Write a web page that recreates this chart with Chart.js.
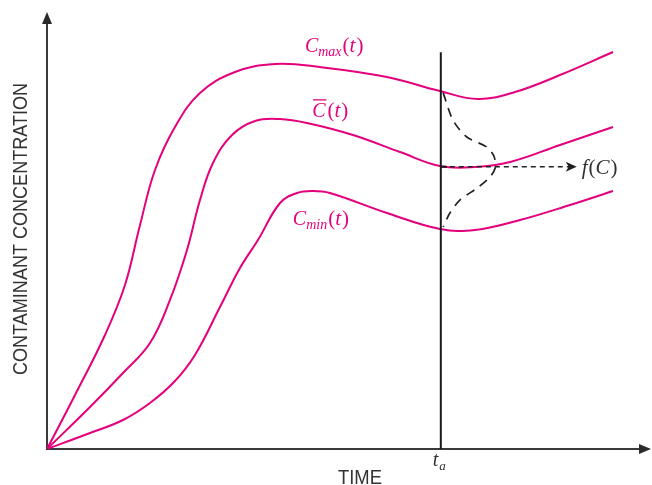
<!DOCTYPE html>
<html>
<head>
<meta charset="utf-8">
<title>Contaminant concentration over time</title>
<script src="https://cdn.jsdelivr.net/npm/chart.js@4.4.1/dist/chart.umd.min.js"></script>
<style>
  html, body { margin: 0; padding: 0; background: #ffffff; }
  #wrap { width: 652px; height: 485px; position: relative; }
</style>
</head>
<body>
<div id="wrap"><canvas id="chart" width="652" height="485"></canvas></div>
<script>
// Upper envelope C_max(t)
const tMax = [0, 4.64, 9.60, 12.91, 15.40, 17.88, 21.19, 25.33, 31.13, 37.75, 45.20, 56.29, 65.07, 71.36, 77.48, 84.93, 93.71];
const cMax = [0, 12.36, 26.09, 37.53, 51.26, 63.84, 73.68, 81.46, 86.27, 88.10, 87.41, 85.13, 81.92, 80.09, 81.69, 85.58, 90.85];

// Mean concentration C̄(t)
const tMean = [0, 7.12, 12.58, 17.05, 20.36, 23.18, 25.33, 27.48, 30.63, 34.44, 38.58, 43.05, 50.66, 58.44, 65.07, 70.86, 76.66, 84.93, 93.71];
const cMean = [0, 9.61, 17.39, 24.26, 34.10, 45.54, 56.98, 65.45, 71.85, 75.06, 75.51, 74.60, 71.85, 67.96, 64.76, 64.53, 65.68, 69.57, 73.68];

// Lower envelope C_min(t)
const tMin = [0, 7.12, 12.58, 17.05, 21.19, 24.50, 28.64, 31.95, 34.93, 38.58, 41.39, 44.04, 46.85, 56.29, 65.07, 70.86, 78.31, 86.59, 93.71];
const cMin = [0, 3.66, 6.64, 10.53, 15.56, 21.51, 32.49, 41.42, 47.83, 56.29, 58.58, 59.04, 58.58, 54.00, 50.34, 50.11, 52.40, 55.84, 59.04];

// Distribution f(C) sketched at time t_a: density (horizontal) against concentration (vertical)
const tA = 65.2;
const fDensity = [0.4, 2.0, 4.3, 7.6, 8.8, 9.0, 8.1, 6.0, 3.2, 1.5, 0.4];
const fConc = [81.5, 75.3, 71.4, 69.1, 67.0, 64.3, 62.2, 59.7, 57.0, 54.0, 50.8];

// Arrow from the mean at t_a towards the f(C) label
const meanAtTa = 64.6;
const arrowEnd = 86.6;
const arrowTip = 87.7;

const MAGENTA = '#e4007c';

const toXY = (xs, ys) => xs.map((x, i) => ({ x: x, y: ys[i] }));

const curveStyle = {
  borderColor: MAGENTA,
  borderWidth: 2,
  pointRadius: 0,
  fill: false,
  tension: 0.4
};

// Draws a run of text pieces with different fonts / baseline offsets
function drawRuns(ctx, x, y, runs, color) {
  ctx.fillStyle = color;
  ctx.textBaseline = 'alphabetic';
  ctx.textAlign = 'left';
  const spots = [];
  for (const r of runs) {
    ctx.font = r.font;
    const w = ctx.measureText(r.text).width;
    ctx.fillText(r.text, x, y + (r.dy || 0));
    spots.push({ x: x, w: w });
    x += w + (r.gap || 0);
  }
  return spots;
}

const SERIF = '"Liberation Serif", "Times New Roman", serif';
const SANS = '"Liberation Sans Narrow", "Liberation Sans", Arial, sans-serif';

const decor = {
  id: 'decor',
  beforeDatasetsDraw(chart) {
    const ctx = chart.ctx;
    const xs = chart.scales.x, ys = chart.scales.y;
    const x0 = xs.getPixelForValue(0), y0 = ys.getPixelForValue(0);
    const xEnd = xs.getPixelForValue(xs.max), yEnd = ys.getPixelForValue(ys.max);
    ctx.save();
    ctx.strokeStyle = '#3a3a3a';
    ctx.fillStyle = '#2a2a2a';
    ctx.lineWidth = 2;
    ctx.beginPath();
    ctx.moveTo(x0, y0 + 1);
    ctx.lineTo(x0, yEnd + 8);
    ctx.moveTo(x0 - 1, y0);
    ctx.lineTo(xEnd - 8, y0);
    ctx.stroke();
    // arrowheads
    ctx.beginPath();
    ctx.moveTo(x0, yEnd);
    ctx.lineTo(x0 - 5, yEnd + 12);
    ctx.lineTo(x0 + 5, yEnd + 12);
    ctx.closePath();
    ctx.fill();
    ctx.beginPath();
    ctx.moveTo(xEnd, y0);
    ctx.lineTo(xEnd - 12, y0 - 5);
    ctx.lineTo(xEnd - 12, y0 + 5);
    ctx.closePath();
    ctx.fill();
    ctx.restore();
  },
  afterDatasetsDraw(chart) {
    const ctx = chart.ctx;
    const xs = chart.scales.x, ys = chart.scales.y;
    const px = v => xs.getPixelForValue(v);
    const py = v => ys.getPixelForValue(v);
    ctx.save();

    // arrowhead of the f(C) pointer
    const ay = py(meanAtTa);
    const tipX = px(arrowTip);
    ctx.fillStyle = '#1e1e1e';
    ctx.beginPath();
    ctx.moveTo(tipX, ay);
    ctx.lineTo(tipX - 11, ay - 5);
    ctx.lineTo(tipX - 8, ay);
    ctx.lineTo(tipX - 11, ay + 5);
    ctx.closePath();
    ctx.fill();

    // short solid stub where the pointer leaves the t_a line
    ctx.strokeStyle = '#1e1e1e';
    ctx.lineWidth = 2;
    ctx.beginPath();
    ctx.moveTo(px(tA), ay);
    ctx.lineTo(px(tA) + 6, ay);
    ctx.stroke();

    // f(C) label
    drawRuns(ctx, tipX + 5, ay + 7, [
      { text: 'f', font: 'italic 21px ' + SERIF, gap: 1 },
      { text: '(', font: '21px ' + SERIF },
      { text: 'C', font: 'italic 21px ' + SERIF, gap: 1 },
      { text: ')', font: '21px ' + SERIF }
    ], '#303030');

    // curve labels
    drawRuns(ctx, px(42.7), py(90.8), [
      { text: 'C', font: 'italic 20px ' + SERIF },
      { text: 'max', font: 'italic 14px ' + SERIF, dy: 4, gap: 1 },
      { text: '(', font: '21px ' + SERIF },
      { text: 't', font: 'italic 21px ' + SERIF, gap: 1 },
      { text: ')', font: '21px ' + SERIF }
    ], MAGENTA);

    const bar = drawRuns(ctx, px(43.9), py(76.0), [
      { text: 'C', font: 'italic 20px ' + SERIF, gap: 2 },
      { text: '(', font: '21px ' + SERIF },
      { text: 't', font: 'italic 21px ' + SERIF, gap: 1 },
      { text: ')', font: '21px ' + SERIF }
    ], MAGENTA);
    ctx.strokeStyle = MAGENTA;
    ctx.lineWidth = 1.3;
    ctx.beginPath();
    ctx.moveTo(bar[0].x + 1, py(76.0) - 17);
    ctx.lineTo(bar[0].x + bar[0].w + 1, py(76.0) - 17);
    ctx.stroke();

    drawRuns(ctx, px(40.7), py(51.3), [
      { text: 'C', font: 'italic 20px ' + SERIF },
      { text: 'min', font: 'italic 14px ' + SERIF, dy: 4, gap: 1 },
      { text: '(', font: '21px ' + SERIF },
      { text: 't', font: 'italic 21px ' + SERIF, gap: 1 },
      { text: ')', font: '21px ' + SERIF }
    ], MAGENTA);

    // t_a tick label
    drawRuns(ctx, px(tA) - 8, py(0) + 17, [
      { text: 't', font: 'italic 20px ' + SERIF, gap: 1 },
      { text: 'a', font: 'italic 13px ' + SERIF, dy: 4 }
    ], '#303030');

    // axis titles in a condensed sans, fitted to their span
    ctx.fillStyle = '#333333';
    ctx.font = '21px ' + SANS;
    ctx.textBaseline = 'alphabetic';
    ctx.textAlign = 'left';
    const tTime = 'TIME';
    const wTime = ctx.measureText(tTime).width;
    ctx.save();
    ctx.translate(338, 484);
    ctx.scale(44 / wTime, 1);
    ctx.fillText(tTime, 0, 0);
    ctx.restore();

    const tConc = 'CONTAMINANT CONCENTRATION';
    const wConc = ctx.measureText(tConc).width;
    ctx.save();
    ctx.translate(27, 375);
    ctx.rotate(-Math.PI / 2);
    ctx.scale(292 / wConc, 1);
    ctx.fillText(tConc, 0, 0);
    ctx.restore();

    ctx.restore();
  }
};

new Chart(document.getElementById('chart'), {
  type: 'line',
  data: {
    datasets: [
      Object.assign({ label: 'C max', data: toXY(tMax, cMax), order: 3 }, curveStyle),
      Object.assign({ label: 'C mean', data: toXY(tMean, cMean), order: 3 }, curveStyle),
      Object.assign({ label: 'C min', data: toXY(tMin, cMin), order: 3 }, curveStyle),
      {
        label: 't_a',
        data: [{ x: tA, y: 0 }, { x: tA, y: 90.8 }],
        borderColor: '#1a1a1a', borderWidth: 2, pointRadius: 0, order: 1
      },
      {
        label: 'f(C)',
        data: toXY(fDensity.map(d => tA + d), fConc),
        borderColor: '#222222', borderWidth: 1.7, borderDash: [9, 7],
        pointRadius: 0, tension: 0.3, order: 2
      },
      {
        label: 'pointer',
        data: [{ x: tA, y: meanAtTa }, { x: arrowEnd, y: meanAtTa }],
        borderColor: '#222222', borderWidth: 1.5, borderDash: [5, 4],
        pointRadius: 0, order: 2
      }
    ]
  },
  options: {
    responsive: false,
    animation: false,
    devicePixelRatio: 1,
    layout: { padding: { left: 47, right: 1, top: 12, bottom: 36 } },
    plugins: { legend: { display: false }, tooltip: { enabled: false } },
    scales: {
      x: { type: 'linear', min: 0, max: 100, display: false },
      y: { type: 'linear', min: 0, max: 100, display: false }
    }
  },
  plugins: [decor]
});
</script>
</body>
</html>
